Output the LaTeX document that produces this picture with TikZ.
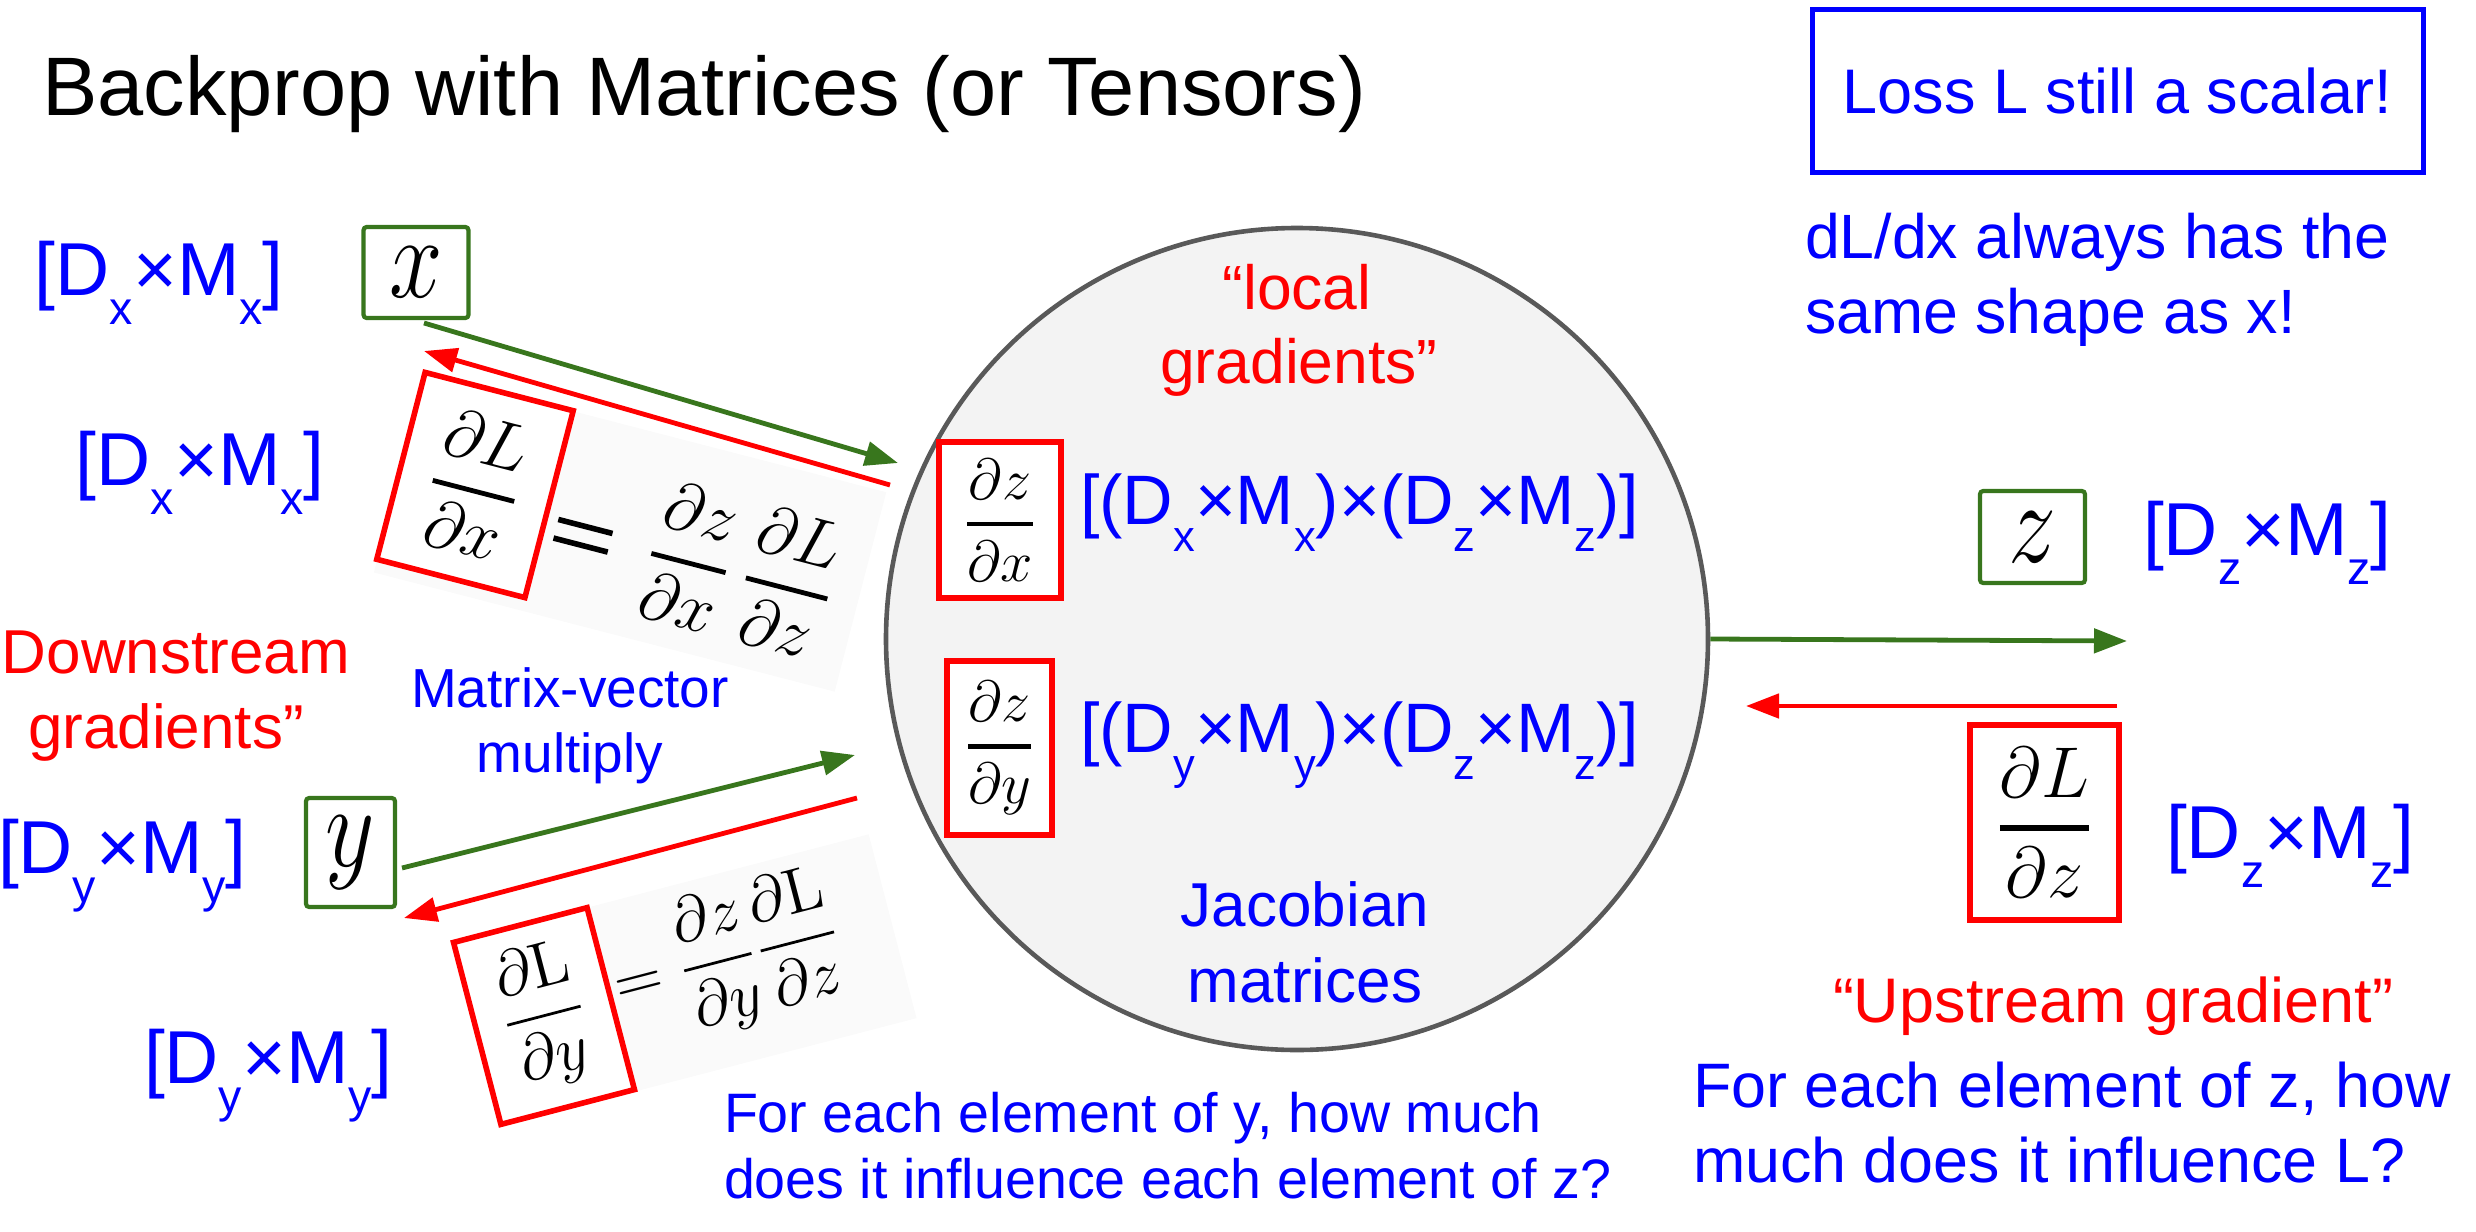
\RequirePackage{fix-cm}
\documentclass[tikz,border=0pt]{standalone}
\usepackage{amsmath}
\usepackage[no-math]{fontspec}
\setmainfont{Liberation Sans}
\usetikzlibrary{arrows.meta}
\definecolor{gblue}{HTML}{0000FF}
\definecolor{gred}{HTML}{FF0000}
\definecolor{ggreen}{HTML}{38761D}
\definecolor{cfill}{HTML}{F3F3F3}
\definecolor{cdraw}{HTML}{595959}
\definecolor{fbg}{HTML}{FAFAFA}
\newcommand\fs[1]{\fontsize{#1pt}{#1pt}\selectfont}
\newcommand\sbx[1]{\raisebox{-0.39em}{\scalebox{0.62}{#1}}}
\newcommand\thk[2]{\genfrac{}{}{1.2pt}{0}{#1}{#2}}
\newcommand\nfml[2]{\mbox{\fs{#1}$#2$}}
\newcommand\bigvar[1]{\mbox{\fs{24}\scalebox{1}[1.22]{$#1$}}}
\newcommand\fateq{\mathrel{\vcenter{\offinterlineskip\hbox{\rule{14pt}{1.4pt}}\vskip3.4pt\hbox{\rule{14pt}{1.4pt}}}}}
\def\pxu{0.25pt}
\tikzset{
  txt/.style={inner sep=0pt, outer sep=0pt},
  bluet/.style={txt, text=gblue},
  redt/.style={txt, text=gred},
  gbox/.style={draw=ggreen, line width=1.05pt, rounded corners=0.8pt, fill=white, inner sep=0pt},
  rbox/.style={draw=gred, line width=1.4pt, fill=white, inner sep=0pt},
  garr/.style={draw=ggreen, line width=1.2pt, -{Triangle[length=8.25pt,width=6pt]}},
  rarr/.style={draw=gred, line width=1.2pt, -{Triangle[length=8.25pt,width=6pt]}},
}
\begin{document}
\begin{tikzpicture}[x=0.25pt, y=-0.25pt]
\useasboundingbox (0,0) rectangle (2476,1232);

% title
\node[txt, anchor=base west, font=\fs{20.75}] (title) at (42,115) {Backprop with Matrices (or Tensors)};

% loss box
\node[draw=gblue, line width=1.25pt, minimum width=611*\pxu, minimum height=163*\pxu, inner sep=0pt, text=gblue, font=\fs{15.75}] (loss) at (2117.5,91) {Loss L still a scalar!};
\node[bluet, anchor=base west, font=\fs{15.65}] (dl1) at (1805,258) {dL/dx always has the};
\node[bluet, anchor=base west, font=\fs{15.65}] (dl2) at (1805,333) {same shape as x!};

% central operation circle
\node[circle, draw=cdraw, fill=cfill, line width=1.15pt, minimum size=822*\pxu, inner sep=0pt] (op) at (1297,639) {};
\node[redt, anchor=base, font=\fs{15.6}] (loc1) at (1297,309) {“local};
\node[redt, anchor=base, font=\fs{15.6}] (loc2) at (1299,383) {gradients”};
\node[rbox, minimum width=122*\pxu, minimum height=156*\pxu] (dzdx) at (1000,520) {\nfml{14.5}{\thk{\partial z}{\partial x}}};
\node[rbox, minimum width=105*\pxu, minimum height=174*\pxu] (dzdy) at (999.5,748) {\nfml{14.5}{\thk{\partial z}{\partial y}}};
\node[bluet, anchor=base west, font=\fs{17.5}] (jx) at (1080,524) {[(D\sbx{x}×M\sbx{x})×(D\sbx{z}×M\sbx{z})]};
\node[bluet, anchor=base west, font=\fs{17.5}] (jy) at (1080,752) {[(D\sbx{y}×M\sbx{y})×(D\sbx{z}×M\sbx{z})]};
\node[bluet, anchor=base, font=\fs{15.5}] (jac1) at (1305,926) {Jacobian};
\node[bluet, anchor=base, font=\fs{15.5}] (jac2) at (1305,1002) {matrices};

% x side
\node[bluet, anchor=base west, font=\fs{18.75}] (lx1) at (35,295) {[D\sbx{x}×M\sbx{x}]};
\node[gbox, minimum width=105*\pxu, minimum height=91*\pxu] (xv) at (416,272.5) {\bigvar{x}};
\node[bluet, anchor=base west, font=\fs{18.75}] (lx2) at (76,485) {[D\sbx{x}×M\sbx{x}]};
\begin{scope}[shift={(475,485)}, rotate=-14.5, transform shape]
  \fill[fbg] (-76,-96) rectangle (400,110);
  \node[rbox, minimum width=153*\pxu, minimum height=193*\pxu] (fx) at (0,0) {\nfml{17}{\thk{\partial L}{\partial x}}};
  \node[txt, anchor=west] (fxr) at ([xshift=2.5pt, yshift=-4pt]fx.east) {\nfml{17}{\fateq\;\thk{\partial z}{\partial x}\,\thk{\partial L}{\partial z}}};
\end{scope}
\coordinate (xg1) at (424,323);
\coordinate (xg2) at (898,463);
\coordinate (xr1) at (890,485);
\coordinate (xr2) at (424,351);
\draw[garr] (xg1) -- (xg2);
\draw[rarr] (xr1) -- (xr2);

\node[redt, anchor=base west, font=\fs{15.5}] (ds1) at (2,673) {Downstream};
\node[redt, anchor=base west, font=\fs{15.5}] (ds2) at (28,748) {gradients”};
\node[bluet, anchor=base, font=\fs{13.75}] (mv1) at (570,707) {Matrix-vector};
\node[bluet, anchor=base, font=\fs{13.75}] (mv2) at (570,772) {multiply};

% y side
\node[bluet, anchor=base west, font=\fs{18.75}] (ly1) at (-2,873) {[D\sbx{y}×M\sbx{y}]};
\node[gbox, minimum width=89*\pxu, minimum height=109*\pxu] (yv) at (350.5,852.5) {\bigvar{y}};
\node[bluet, anchor=base west, font=\fs{18.75}] (ly2) at (144,1083) {[D\sbx{y}×M\sbx{y}]};
\begin{scope}[shift={(544,1016)}, rotate=14.6, transform shape]
  \fill[fbg] (-69,-94) rectangle (360,96);
  \node[rbox, minimum width=138*\pxu, minimum height=188*\pxu] (fy) at (0,0) {\nfml{16}{\dfrac{\partial \mathrm{L}}{\partial y}}};
  \node[txt, anchor=west] (fyr) at ([xshift=1pt, yshift=2pt]fy.east) {\nfml{16}{=\dfrac{\partial z}{\partial y}\dfrac{\partial \mathrm{L}}{\partial z}}};
\end{scope}
\coordinate (yg1) at (402,868);
\coordinate (yg2) at (855,755);
\coordinate (yr1) at (857,798);
\coordinate (yr2) at (404,918);
\draw[garr] (yg1) -- (yg2);
\draw[rarr] (yr1) -- (yr2);

% z side
\node[gbox, minimum width=105*\pxu, minimum height=92*\pxu] (zv) at (2032.5,537) {\bigvar{z}};
\node[bluet, anchor=base west, font=\fs{18.75}] (lz1) at (2143,555) {[D\sbx{z}×M\sbx{z}]};
\coordinate (zg2) at (2127,641);
\coordinate (zr1) at (2117,706);
\coordinate (zr2) at (1746,706);
\draw[garr] (op.east) -- (zg2);
\draw[rarr] (zr1) -- (zr2);
\node[rbox, minimum width=149*\pxu, minimum height=195*\pxu] (dldz) at (2044.5,822.5) {\nfml{18}{\genfrac{}{}{1.4pt}{0}{\partial L}{\partial z}}};
\node[bluet, anchor=base west, font=\fs{18.75}] (lz2) at (2166,858) {[D\sbx{z}×M\sbx{z}]};

\node[redt, anchor=base west, font=\fs{15.75}] (up) at (1833,1022) {“Upstream gradient”};
\node[bluet, anchor=base west, font=\fs{15.7}] (qz1) at (1693,1107) {For each element of z, how};
\node[bluet, anchor=base west, font=\fs{15.7}] (qz2) at (1693,1182) {much does it influence L?};
\node[bluet, anchor=base west, font=\fs{13.9}] (qy1) at (724,1132) {For each element of y, how much};
\node[bluet, anchor=base west, font=\fs{13.9}] (qy2) at (724,1198) {does it influence each element of z?};
\end{tikzpicture}
\end{document}
